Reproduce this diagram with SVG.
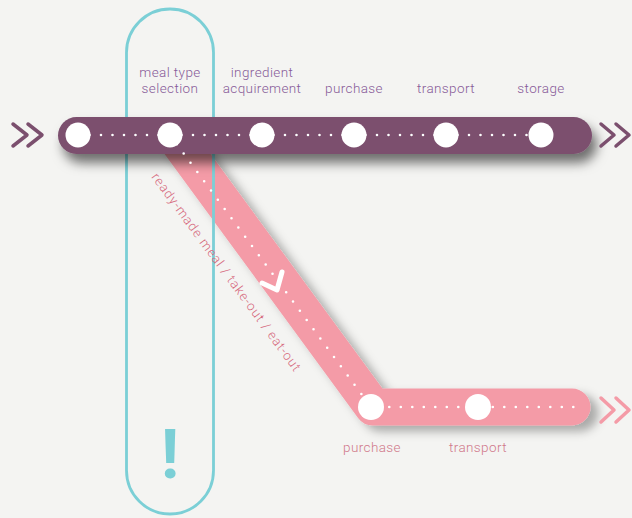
<svg xmlns="http://www.w3.org/2000/svg" width="632" height="518" viewBox="0 0 632 518">
<style>
.lbl{font-family:Roboto,"Liberation Sans",sans-serif;font-weight:300;font-size:13.5px;letter-spacing:0.4px;text-anchor:middle}
.top{fill:#875a98}
.pk{fill:#d0788a}
.node{fill:#ffffff}
.dots{fill:none;stroke:#ffffff;stroke-width:2.6;stroke-linecap:round;stroke-dasharray:0 11.5}
.chev{fill:none;stroke-width:3.5;stroke-linecap:round;stroke-linejoin:round}
</style>
<defs>
<filter id="shP" x="-10%" y="-50%" width="120%" height="250%">
<feDropShadow dx="5" dy="9" stdDeviation="6" flood-color="#000" flood-opacity="0.55"/>
</filter>
<filter id="shK" x="-20%" y="-20%" width="140%" height="140%">
<feDropShadow dx="8" dy="6" stdDeviation="5" flood-color="#000" flood-opacity="0.3"/>
</filter>
</defs>
<rect width="632" height="518" fill="#f4f4f2"/>
<g id="tracks">
<path d="M178,141 L373,407 L572,407" fill="none" stroke="#f49ba7" stroke-width="37" stroke-linecap="round" stroke-linejoin="round" filter="url(#shK)"/>
</g>
<g id="focus">
<rect x="126.5" y="9" width="87" height="505" rx="43.5" fill="none" stroke="#7bcfd6" stroke-width="2.8"/>
<text x="170" y="478" font-family="Roboto,'Liberation Sans',sans-serif" font-weight="700" font-size="68" text-anchor="middle" fill="#7bcfd6">!</text>
</g>
<g id="main-track">
<rect x="58" y="117" width="534" height="37" rx="18.5" fill="#7b4f6e" filter="url(#shP)"/>
</g>
<g id="connectors">
<line class="dots" x1="78" y1="135" x2="541" y2="135"/>
<path class="dots" d="M170,135 L371,407 L578,407"/>
<path d="M262,283 L277,290 L282,272" fill="none" stroke="#fff" stroke-width="5" stroke-linecap="round" stroke-linejoin="round"/>
<path class="chev" stroke="#7b4f6e" d="M13,124 L27,135 L13,146 M28,124 L42,135 L28,146"/>
<path class="chev" stroke="#7b4f6e" d="M601,124 L614,135 L601,146 M616,124 L629,135 L616,146"/>
<path class="chev" stroke="#f49ba7" d="M601,398 L614,410 L601,422 M616,398 L629,410 L616,422"/>
<text font-family="Roboto,'Liberation Sans',sans-serif" font-weight="300" font-size="13" fill="#d6687c" transform="translate(151,177) rotate(53.7)" textLength="242" lengthAdjust="spacing">ready-made meal / take-out / eat-out</text>
</g>
<g id="n-start"><circle class="node" cx="78" cy="135" r="12.5"/></g>
<g id="n-meal"><circle class="node" cx="170" cy="135" r="12.5"/><text class="lbl top" x="170" y="77">meal type</text><text class="lbl top" x="170" y="93">selection</text></g>
<g id="n-ingredient"><circle class="node" cx="262" cy="135" r="12.5"/><text class="lbl top" x="262" y="77">ingredient</text><text class="lbl top" x="262" y="93">acquirement</text></g>
<g id="n-purchase"><circle class="node" cx="354" cy="135" r="12.5"/><text class="lbl top" x="354" y="93">purchase</text></g>
<g id="n-transport"><circle class="node" cx="446" cy="135" r="12.5"/><text class="lbl top" x="446" y="93">transport</text></g>
<g id="n-storage"><circle class="node" cx="541" cy="135" r="12.5"/><text class="lbl top" x="541" y="93">storage</text></g>
<g id="n-purchase2"><circle class="node" cx="371" cy="407" r="13"/><text class="lbl pk" x="372" y="452">purchase</text></g>
<g id="n-transport2"><circle class="node" cx="478" cy="407" r="13"/><text class="lbl pk" x="478" y="452">transport</text></g>
</svg>
